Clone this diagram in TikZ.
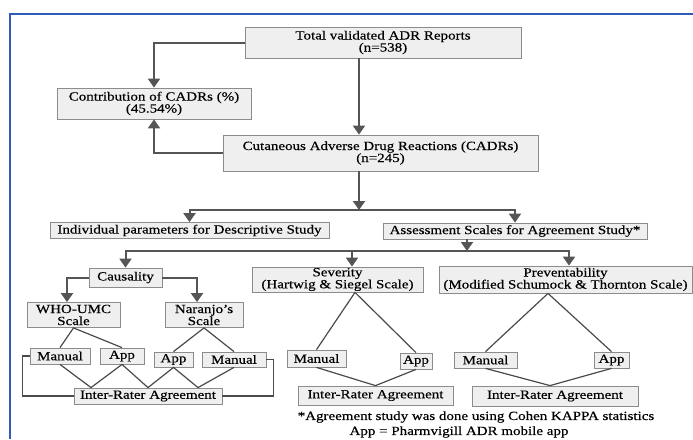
\documentclass[tikz,border=0pt]{standalone}
\usepackage{fontspec}
\setmainfont{Liberation Serif}[FakeStretch=1.2,FakeBold=0.4]
\usetikzlibrary{arrows.meta}
\definecolor{boxfill}{HTML}{EFEFEF}
\definecolor{boxline}{HTML}{8C8C8C}
\definecolor{arrcol}{HTML}{555555}
\definecolor{lncol}{HTML}{4A4A4A}
\definecolor{framecol}{HTML}{2E5CB8}
\begin{document}
\begin{tikzpicture}[x=1pt,y=-1pt,
  font=\fontsize{12.5}{12}\selectfont,
  bx/.style={draw=boxline, fill=boxfill, line width=0.8pt, inner sep=0pt, align=center},
  arr/.style={draw=arrcol, line width=2pt, -{Triangle[width=12pt,length=9pt]}},
  ln/.style={draw=lncol, line width=1.2pt},
  note/.style={inner sep=0pt, align=center}]
\useasboundingbox (0,0) rectangle (693,439);
\fill[white] (0,0) rectangle (693,439);
% frame
\draw[framecol, line width=1.5pt] (10,439) -- (10,14) -- (693,14);

% boxes
\node[bx, minimum width=276pt, minimum height=31pt] (top) at (383,42.5) {Total validated ADR Reports\\(n=538)};
\node[bx, minimum width=194pt, minimum height=31pt] (contrib) at (154,103.5) {Contribution of CADRs (\%)\\(45.54\%)};
\node[bx, minimum width=315pt, minimum height=36pt] (cadr) at (380.5,153) {Cutaneous Adverse Drug Reactions (CADRs)\\(n=245)};
\node[bx, minimum width=279pt, minimum height=16pt] (indiv) at (189.5,230.5) {Individual parameters for Descriptive Study};
\node[bx, minimum width=264pt, minimum height=16pt] (assess) at (515,231) {Assessment Scales for Agreement Study*};
\node[bx, minimum width=73pt, minimum height=19pt] (caus) at (125.5,277.5) {Causality};
\node[bx, minimum width=93pt, minimum height=25pt] (who) at (73.5,315) {WHO-UMC\\Scale};
\node[bx, minimum width=78pt, minimum height=25pt] (nar) at (204,315) {Naranjo's\\Scale};
\node[bx, minimum width=171pt, minimum height=25pt] (sev) at (337.5,279.5) {Severity\\(Hartwig \& Siegel Scale)};
\node[bx, minimum width=253pt, minimum height=27pt] (prev) at (565.5,279.5) {Preventability\\(Modified Schumock \& Thornton Scale)};

\node[bx, minimum width=60pt, minimum height=16pt] (m1) at (60,356) {Manual};
\node[bx, minimum width=44pt, minimum height=16pt] (a1) at (122,356) {App};
\node[bx, minimum width=39pt, minimum height=15pt] (a2) at (173.5,359.5) {App};
\node[bx, minimum width=64pt, minimum height=15pt] (m2) at (234,359.5) {Manual};
\node[bx, minimum width=59pt, minimum height=17pt] (m3) at (316.5,358.5) {Manual};
\node[bx, minimum width=32pt, minimum height=16pt] (a3) at (416,361) {App};
\node[bx, minimum width=63pt, minimum height=16pt] (m4) at (485.5,360) {Manual};
\node[bx, minimum width=35pt, minimum height=16pt] (a4) at (611.5,360) {App};

\node[bx, minimum width=148pt, minimum height=16pt] (ira1) at (148,396) {Inter-Rater Agreement};
\node[bx, minimum width=155pt, minimum height=19pt] (ira2) at (375.5,395.5) {Inter-Rater Agreement};
\node[bx, minimum width=166pt, minimum height=20pt] (ira3) at (555,396) {Inter-Rater Agreement};

\node[note] (fn1) at (476,417) {*Agreement study was done using Cohen KAPPA statistics};
\node[note] (fn2) at (459,432) {App = Pharmvigill ADR mobile app};

% junctions
\coordinate (j1) at (359,210);
\coordinate (j2) at (467,251);

% arrows
\draw[arr] (top.west) -| (contrib.north);
\draw[arr] (top.south -| j1) -- (cadr.north -| j1);
\draw[arr] (cadr.west) -| (contrib.south);
\draw[arr] (cadr.south -| j1) -- (j1);
\draw[arr] (j1) -| (indiv.north);
\draw[arr] (j1) -| (assess.north);
\draw[arr] (assess.south -| j2) -- (j2);
\draw[arr] (j2) -| (caus.north);
\draw[arr] (j2) -| ([xshift=14.5pt]sev.north);
\draw[arr] (j2) -| ([xshift=3.5pt]prev.north);
\draw[arr] (caus.west) -| ([xshift=-6.5pt]who.north);
\draw[arr] (caus.east) -| ([xshift=-7pt]nar.north);

% V lines
\draw[ln] (m1.north) -- (who.south) -- (a1.north);
\draw[ln] (a2.north) -- (nar.south) -- (m2.north);
\draw[ln] (m3.north) -- ([xshift=17.5pt]sev.south) -- (a3.north);
\draw[ln] (m4.north) -- ([xshift=-17.5pt]prev.south) -- (a4.north);

\draw[ln] (m1.south) -- ([xshift=-57pt]ira1.north) -- (a1.south) -- (ira1.north) -- (a2.south) -- ([xshift=50pt]ira1.north) -- (m2.south);
\draw[ln] (m3.south) -- (ira2.north) -- (a3.south);
\draw[ln] (m4.south) -- ([xshift=-5pt]ira3.north) -- (a4.south);

\draw[ln] (m1.west) -- ++(-7,0) |- (ira1.west);
\draw[ln] (m2.east) -- ++(7,0) |- (ira1.east);
\end{tikzpicture}
\end{document}
